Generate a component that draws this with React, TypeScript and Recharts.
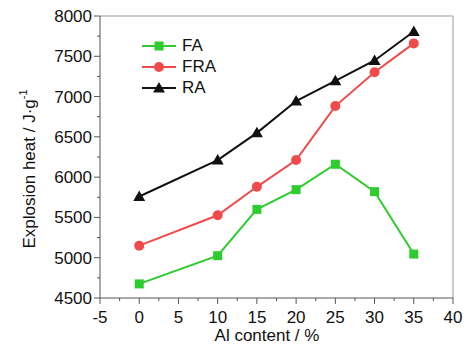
import { LineChart, Line, XAxis, YAxis, ReferenceLine } from 'recharts';

const alContent = [0, 10, 15, 20, 25, 30, 35];
const faValues = [4675, 5025, 5600, 5845, 6160, 5820, 5045];
const fraValues = [5150, 5527, 5880, 6212, 6882, 7302, 7660];
const raValues = [5760, 6212, 6550, 6945, 7195, 7448, 7808];

const xTicks = [-5, -2.5, 0, 2.5, 5, 7.5, 10, 12.5, 15, 17.5, 20, 22.5, 25, 27.5, 30, 32.5, 35, 37.5, 40];
const yTicks = [4500, 4750, 5000, 5250, 5500, 5750, 6000, 6250, 6500, 6750, 7000, 7250, 7500, 7750, 8000];

const series = [
    { key: 'FA', label: 'FA', color: '#2ecc2e', shape: 'square' },
    { key: 'FRA', label: 'FRA', color: '#f04a4a', shape: 'circle' },
    { key: 'RA', label: 'RA', color: '#111111', shape: 'triangle' },
];

const data = alContent.map((x, i) => ({ x, FA: faValues[i], FRA: fraValues[i], RA: raValues[i] }));

const font = '"Liberation Sans", Arial, sans-serif';
const axisColor = '#555';

function Marker({ shape, cx, cy, color }: any) {
    if (cx == null || cy == null) return null;
    if (shape === 'square') {
        return <rect x={cx - 4.5} y={cy - 4.5} width={9} height={9} fill={color} />;
    }
    if (shape === 'triangle') {
        return <polygon points={`${cx},${cy - 6} ${cx - 6},${cy + 4.5} ${cx + 6},${cy + 4.5}`} fill={color} />;
    }
    return <circle cx={cx} cy={cy} r={5} fill={color} />;
}

const XTick = ({ x, y, payload }: any) => {
    const major = payload.value % 5 === 0;
    return (
        <g>
            <line x1={x} y1={y} x2={x} y2={y + (major ? 6 : 3)} stroke={axisColor} strokeWidth={1} />
            {major && (
                <text x={x} y={y + 25} textAnchor="middle" fontSize={17} fill="#111" fontFamily={font}>
                    {payload.value}
                </text>
            )}
        </g>
    );
};

const YTick = ({ x, y, payload }: any) => {
    const major = payload.value % 500 === 0;
    return (
        <g>
            <line x1={x - (major ? 6 : 3)} y1={y} x2={x} y2={y} stroke={axisColor} strokeWidth={1} />
            {major && (
                <text x={x - 8} y={y + 6} textAnchor="end" fontSize={17} fill="#111" fontFamily={font}>
                    {payload.value}
                </text>
            )}
        </g>
    );
};

function ChartLegend() {
    return (
        <div style={{ position: 'absolute', left: 140, top: 35, fontFamily: font, fontSize: 17, color: '#111' }}>
            {series.map((s) => (
                <div key={s.key} style={{ display: 'flex', alignItems: 'center', height: 21 }}>
                    <svg width={38} height={14}>
                        <line x1={2} y1={7} x2={36} y2={7} stroke={s.color} strokeWidth={2} />
                        <Marker shape={s.shape} cx={19} cy={7} color={s.color} />
                    </svg>
                    <span style={{ marginLeft: 4 }}>{s.label}</span>
                </div>
            ))}
        </div>
    );
}

export default function App() {
    return (
        <div style={{ position: 'absolute', left: 0, top: 0, width: 473, height: 349, background: '#fff' }}>
            <LineChart width={473} height={349} data={data} margin={{ top: 16, right: 20, left: 0, bottom: 21 }}>
                <XAxis
                    dataKey="x"
                    type="number"
                    domain={[-5, 40]}
                    ticks={xTicks}
                    interval={0}
                    height={30}
                    tickSize={0}
                    tickMargin={0}
                    tickLine={false}
                    stroke={axisColor}
                    tick={<XTick />}
                />
                <YAxis
                    type="number"
                    domain={[4500, 8000]}
                    ticks={yTicks}
                    interval={0}
                    width={100}
                    tickSize={0}
                    tickMargin={0}
                    tickLine={false}
                    stroke={axisColor}
                    tick={<YTick />}
                />
                <ReferenceLine y={8000} stroke="#999" />
                <ReferenceLine x={40} stroke="#999" />
                {series.map((s) => (
                    <Line
                        key={s.key}
                        dataKey={s.key}
                        stroke={s.color}
                        strokeWidth={2}
                        isAnimationActive={false}
                        dot={(p: any) => <Marker key={`${s.key}-${p.index}`} shape={s.shape} cx={p.cx} cy={p.cy} color={s.color} />}
                        activeDot={false}
                    />
                ))}
                <text x={267} y={341} textAnchor="middle" fontSize={17} fill="#111" fontFamily={font}>
                    Al content / %
                </text>
                <text
                    transform="translate(35,169) rotate(-90)"
                    textAnchor="middle"
                    fontSize={17}
                    fill="#111"
                    fontFamily={font}
                >
                    Explosion heat / J·g<tspan fontSize={11} dy={-8}>-1</tspan>
                </text>
            </LineChart>
            <ChartLegend />
        </div>
    );
}
